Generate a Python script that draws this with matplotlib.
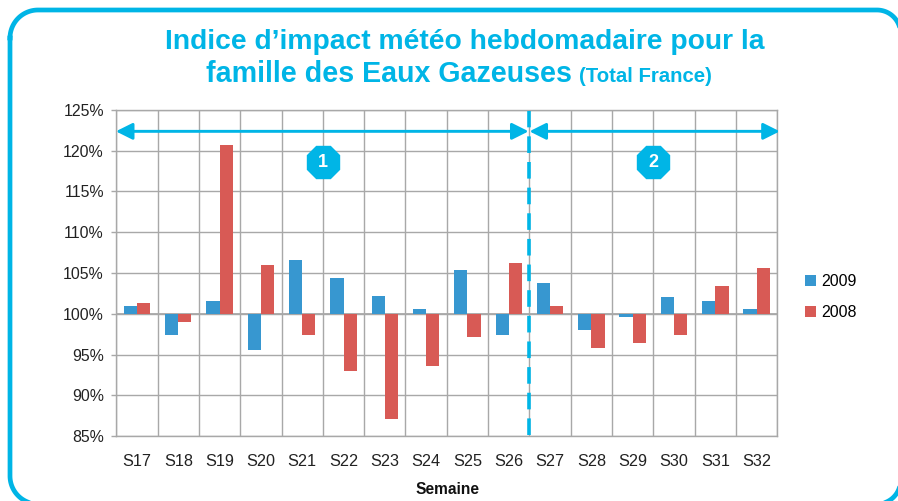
import matplotlib
matplotlib.use('Agg')

import matplotlib.pyplot as plt
import numpy as np

plt.rcParams['font.family'] = ['Liberation Sans', 'DejaVu Sans']

# Valeurs (indice en %)
semaines = ['S17', 'S18', 'S19', 'S20', 'S21', 'S22', 'S23', 'S24',
            'S25', 'S26', 'S27', 'S28', 'S29', 'S30', 'S31', 'S32']
indice_2009 = [101.0, 97.4, 101.6, 95.6, 106.6, 104.4, 102.2, 100.6,
               105.4, 97.4, 103.8, 98.0, 99.6, 102.0, 101.6, 100.6]
indice_2008 = [101.35, 99.0, 120.7, 106.0, 97.4, 93.0, 87.1, 93.6,
               97.2, 106.2, 101.0, 95.8, 96.4, 97.4, 103.4, 105.6]
graduations = [85, 90, 95, 100, 105, 110, 115, 120, 125]

BLEU_CADRE = '#00B5E6'
BLEU = '#3797D0'
ROUGE = '#D85A55'
GRILLE = '#A8A8A8'
W, H = 898, 501

fig = plt.figure(figsize=(W / 100, H / 100), dpi=100)

# Cadre arrondi, en pixels (les coins n'ont pas tous le même rayon)
fond = fig.add_axes([0, 0, 1, 1])
fond.set_xlim(0, W)
fond.set_ylim(H, 0)
fond.axis('off')


def coin(xc, yc, r, a0, a1):
    t = np.radians(np.linspace(a0, a1, 30))
    return xc + r * np.cos(t), yc + r * np.sin(t)


morceaux = [coin(38, 38, 28, 180, 270), coin(877, 33.5, 23.5, 270, 360),
            coin(877, 480.5, 23.5, 0, 90), coin(38, 476, 28, 90, 180)]
cadre_x = np.concatenate([m[0] for m in morceaux] + [morceaux[0][0][:1]])
cadre_y = np.concatenate([m[1] for m in morceaux] + [morceaux[0][1][:1]])
fond.plot(cadre_x, cadre_y, color=BLEU_CADRE, linewidth=3.4, clip_on=False)

# Titre
fond.text(464.5, 49, "Indice d\u2019impact météo hebdomadaire pour la", color=BLEU_CADRE,
          fontsize=20.3, fontweight='bold', ha='center', va='baseline')
fond.text(572, 82, 'famille des Eaux Gazeuses', color=BLEU_CADRE,
          fontsize=20.6, fontweight='bold', ha='right', va='baseline')
fond.text(579, 82, '(Total France)', color=BLEU_CADRE,
          fontsize=14.7, fontweight='bold', ha='left', va='baseline')
fond.text(447.5, 489.5, 'Semaine', fontsize=11.2, fontweight='bold', color='#111111',
          ha='center', va='center')

# Axe principal
x0, x1, y0, y1 = 116.3, 777.3, 109.7, 436.3
ax = fig.add_axes([x0 / W, 1 - y1 / H, (x1 - x0) / W, (y1 - y0) / H])
ax.patch.set_alpha(0)

x = list(range(len(semaines)))
largeur = 0.32
b1 = ax.bar([i - largeur / 2 for i in x], [v - 100 for v in indice_2009], largeur,
            bottom=100, color=BLEU, label='2009', zorder=3)
b2 = ax.bar([i + largeur / 2 for i in x], [v - 100 for v in indice_2008], largeur,
            bottom=100, color=ROUGE, label='2008', zorder=3)

ax.set_xlim(-0.5, len(semaines) - 0.5)
ax.set_ylim(85, 125)
ax.set_yticks(graduations)
ax.set_yticklabels([f'{g}%' for g in graduations])
ax.set_xticks(x)
ax.set_xticklabels(semaines)

# Grille : horizontales sur les graduations, verticales entre les semaines
ax.set_xticks([i - 0.5 for i in x] + [len(x) - 0.5], minor=True)
ax.grid(True, axis='y', color=GRILLE, linewidth=1.0, zorder=1)
ax.grid(True, axis='x', which='minor', color=GRILLE, linewidth=1.0, zorder=1)
ax.tick_params(axis='x', which='major', length=0, labelsize=11.7, pad=12.5, labelcolor='#222222')
ax.tick_params(axis='x', which='minor', length=0)
ax.tick_params(axis='y', length=3.4, width=1.0, color=GRILLE, labelsize=11.4, pad=5.5,
               labelcolor='#222222')
for cote in ['top', 'right', 'left', 'bottom']:
    ax.spines[cote].set_color(GRILLE)
    ax.spines[cote].set_linewidth(1.0)
ax.axhline(100, color=GRILLE, linewidth=1.3, zorder=2)
ax.set_axisbelow(True)

# Séparation des deux périodes
ax.plot([9.5, 9.5], [85.2, 124.9], color=BLEU_CADRE, linewidth=2.6,
        linestyle=(0, (4.6, 2.5)), zorder=5)
for debut, fin in [(-0.51, 9.48), (9.5, 15.56)]:
    ax.annotate('', xy=(debut, 122.35), xytext=(fin, 122.35), zorder=6,
                arrowprops=dict(arrowstyle='<|-|>,head_length=1.0,head_width=0.5',
                                color=BLEU_CADRE, linewidth=2.1, shrinkA=0, shrinkB=0))
for xc, numero in [(4.5, '1'), (12.5, '2')]:
    ax.plot(xc, 118.6, marker='8', markersize=25, color=BLEU_CADRE, zorder=6, clip_on=False)
    ax.text(xc, 118.55, numero, color='white', fontsize=13, fontweight='bold',
            ha='center', va='center', zorder=7)

ax.legend(handles=[b1, b2], frameon=False, loc='upper left',
          bbox_to_anchor=((805 - x0) / (x1 - x0), (y1 - 274) / (y1 - y0)),
          handlelength=0.7, handleheight=0.7, handletextpad=0.3, labelspacing=1.0,
          borderaxespad=0, borderpad=0, fontsize=11.5)

fig.savefig('out.png', dpi=100)
